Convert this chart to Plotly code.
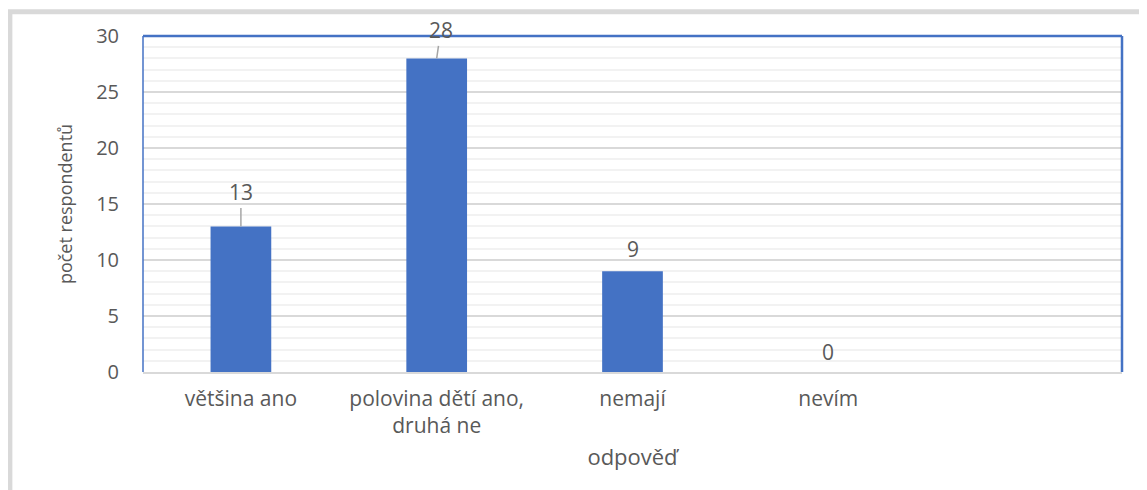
import plotly.graph_objects as go

categories = ["většina ano", "polovina dětí ano,<br>druhá ne", "nemají", "nevím"]
values = [13, 28, 9, 0]
y_ticks = [0, 5, 10, 15, 20, 25, 30]

TXT = "#595959"
FONT = "Open Sans"
BLUE = "#4472c4"
FS = 21

fig = go.Figure()
fig.add_trace(go.Bar(
    x=categories, y=values, width=0.31,
    marker=dict(color=BLUE, line=dict(width=0)),
    hoverinfo="skip",
))

# data labels (offsets in px)
label_off = [(0, -34, True), (4, -28, True), (0, -22, False), (0, -20, False)]
for c, v, (ax, ay, arr) in zip(categories, values, label_off):
    if arr:
        fig.add_annotation(x=c, y=v, text=str(v), showarrow=True, arrowhead=0,
                           arrowwidth=1.5, arrowcolor="#a6a6a6", ax=ax, ay=ay,
                           standoff=0, startstandoff=0,
                           font=dict(family=FONT, size=FS, color=TXT))
    else:
        fig.add_annotation(x=c, y=v, text=str(v), showarrow=False, yshift=-ay,
                           font=dict(family=FONT, size=FS, color=TXT))

# plot border (left, top, right) in blue
for x0, y0, x1, y1, w in [(0, 0, 0, 1, 1.5), (0, 1, 1, 1, 2.5), (1, 0, 1, 1, 2.5)]:
    fig.add_shape(type="line", xref="paper", yref="paper", x0=x0, y0=y0, x1=x1, y1=y1,
                  line=dict(color=BLUE, width=w), layer="above")

# outer frame
fig.add_shape(type="rect", xref="paper", yref="paper",
              x0=-0.136, y0=-0.5, x1=1.1, y1=1.072,
              line=dict(color="#d9d9d9", width=5), layer="below")

# page body has an 8px margin: shrink the figure and shift margins accordingly
fig.update_layout(
    width=1139, height=482,
    margin=dict(l=135, r=25, t=28, b=118, autoexpand=False),
    paper_bgcolor="white", plot_bgcolor="white",
    showlegend=False,
    font=dict(family=FONT, size=FS, color=TXT),
    xaxis=dict(
        type="category", range=[-0.5, 4.5],
        showline=True, linecolor="#d9d9d9", linewidth=1.5,
        showgrid=False, ticks="", ticklabelstandoff=7,
        tickfont=dict(family=FONT, size=FS, color=TXT),
        title=dict(text="odpověď", standoff=11,
                   font=dict(family=FONT, size=22, color=TXT)),
        fixedrange=True,
    ),
    yaxis=dict(
        range=[0, 30], tickvals=y_ticks, ticktext=[str(t) for t in y_ticks],
        showgrid=True, gridcolor="#d9d9d9", gridwidth=1.5,
        minor=dict(dtick=1, showgrid=True, gridcolor="#f2f2f2", gridwidth=1.5),
        zeroline=False, showline=False, ticks="", ticklabelstandoff=23,
        tickfont=dict(family=FONT, size=20, color=TXT),
        title=dict(text="počet respondentů", standoff=18,
                   font=dict(family=FONT, size=18, color=TXT)),
        fixedrange=True,
    ),
)

fig.write_html("out.html")
